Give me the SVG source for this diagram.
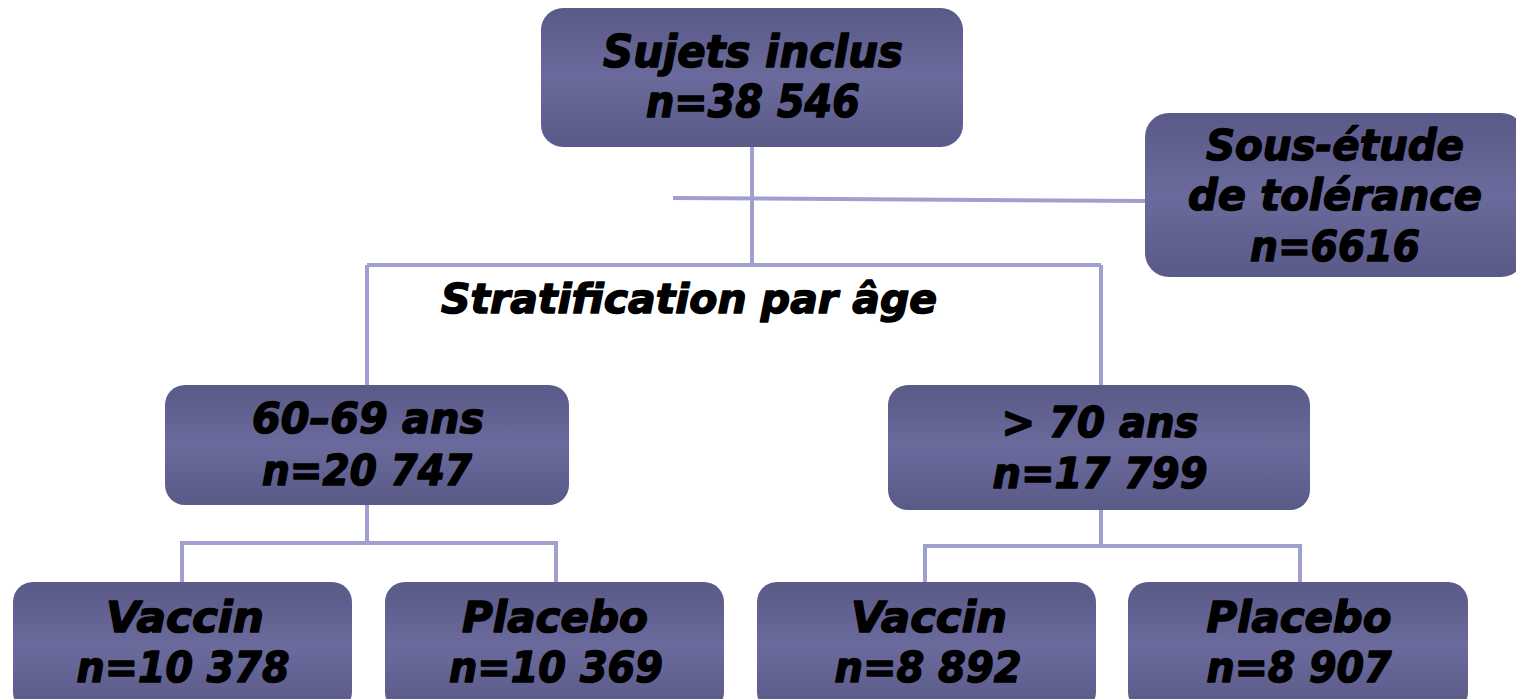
<svg xmlns="http://www.w3.org/2000/svg" width="1516" height="699" viewBox="0 0 1516 699">
<defs>
<linearGradient id="g" x1="0" y1="0" x2="0" y2="1">
<stop offset="0" stop-color="#5a5a88"/>
<stop offset="0.5" stop-color="#6a6a9c"/>
<stop offset="1" stop-color="#5a5a88"/>
</linearGradient>
<style>
.box{fill:url(#g);}
.t{font-family:"DejaVu Sans","Liberation Sans",Arial,sans-serif;font-weight:bold;font-style:italic;fill:#000;stroke:#000;stroke-width:1.5;stroke-linejoin:round;text-anchor:middle;font-size:43px;}
.c{fill:none;stroke:#a0a0d0;stroke-width:4;}
</style>
</defs>
<rect width="1516" height="699" fill="#fff"/>
<g id="connectors">
<path class="c" d="M752 147V265M673 198L1148 201M367 265H1101M367 265V385M1101 265V385"/>
<path class="c" d="M367 505V543M182 543H556M182 541V582M556 541V582"/>
<path class="c" d="M1101 510V546M925 546H1300M925 544V582M1300 544V582"/>
</g>
<g id="n-top">
<rect class="box" x="541" y="8" width="422" height="139" rx="22"/>
<text class="t" x="753" y="67" style="font-size:45px" textLength="300" lengthAdjust="spacingAndGlyphs">Sujets inclus</text>
<text class="t" x="753" y="117" style="font-size:45px" textLength="214" lengthAdjust="spacingAndGlyphs">n=38 546</text>
</g>
<g id="n-sous">
<rect class="box" x="1145" y="113" width="380" height="164" rx="24"/>
<text class="t" x="1335" y="160" textLength="258" lengthAdjust="spacingAndGlyphs">Sous-étude</text>
<text class="t" x="1335" y="210" textLength="294" lengthAdjust="spacingAndGlyphs">de tolérance</text>
<text class="t" x="1335" y="261" textLength="170" lengthAdjust="spacingAndGlyphs">n=6616</text>
</g>
<g id="label-strat">
<text class="t" x="689" y="313" style="font-size:41px" textLength="496" lengthAdjust="spacingAndGlyphs">Stratification par âge</text>
</g>
<g id="n-6069">
<rect class="box" x="165" y="385" width="404" height="120" rx="20"/>
<text class="t" x="368" y="433" textLength="232" lengthAdjust="spacingAndGlyphs">60–69 ans</text>
<text class="t" x="367" y="485" textLength="210" lengthAdjust="spacingAndGlyphs">n=20 747</text>
</g>
<g id="n-70">
<rect class="box" x="888" y="385" width="422" height="125" rx="20"/>
<text class="t" x="1100" y="437" textLength="197" lengthAdjust="spacingAndGlyphs">&gt; 70 ans</text>
<text class="t" x="1100" y="488" textLength="215" lengthAdjust="spacingAndGlyphs">n=17 799</text>
</g>
<g id="n-v1">
<rect class="box" x="13" y="582" width="339" height="130" rx="20"/>
<text class="t" x="185" y="632" textLength="158" lengthAdjust="spacingAndGlyphs">Vaccin</text>
<text class="t" x="183" y="682" textLength="213" lengthAdjust="spacingAndGlyphs">n=10 378</text>
</g>
<g id="n-p1">
<rect class="box" x="385" y="582" width="339" height="130" rx="20"/>
<text class="t" x="555" y="632" textLength="186" lengthAdjust="spacingAndGlyphs">Placebo</text>
<text class="t" x="556" y="682" textLength="214" lengthAdjust="spacingAndGlyphs">n=10 369</text>
</g>
<g id="n-v2">
<rect class="box" x="757" y="582" width="339" height="130" rx="20"/>
<text class="t" x="929" y="632" textLength="156" lengthAdjust="spacingAndGlyphs">Vaccin</text>
<text class="t" x="928" y="682" textLength="187" lengthAdjust="spacingAndGlyphs">n=8 892</text>
</g>
<g id="n-p2">
<rect class="box" x="1128" y="582" width="340" height="130" rx="20"/>
<text class="t" x="1299" y="632" textLength="185" lengthAdjust="spacingAndGlyphs">Placebo</text>
<text class="t" x="1299" y="682" textLength="185" lengthAdjust="spacingAndGlyphs">n=8 907</text>
</g>
</svg>
